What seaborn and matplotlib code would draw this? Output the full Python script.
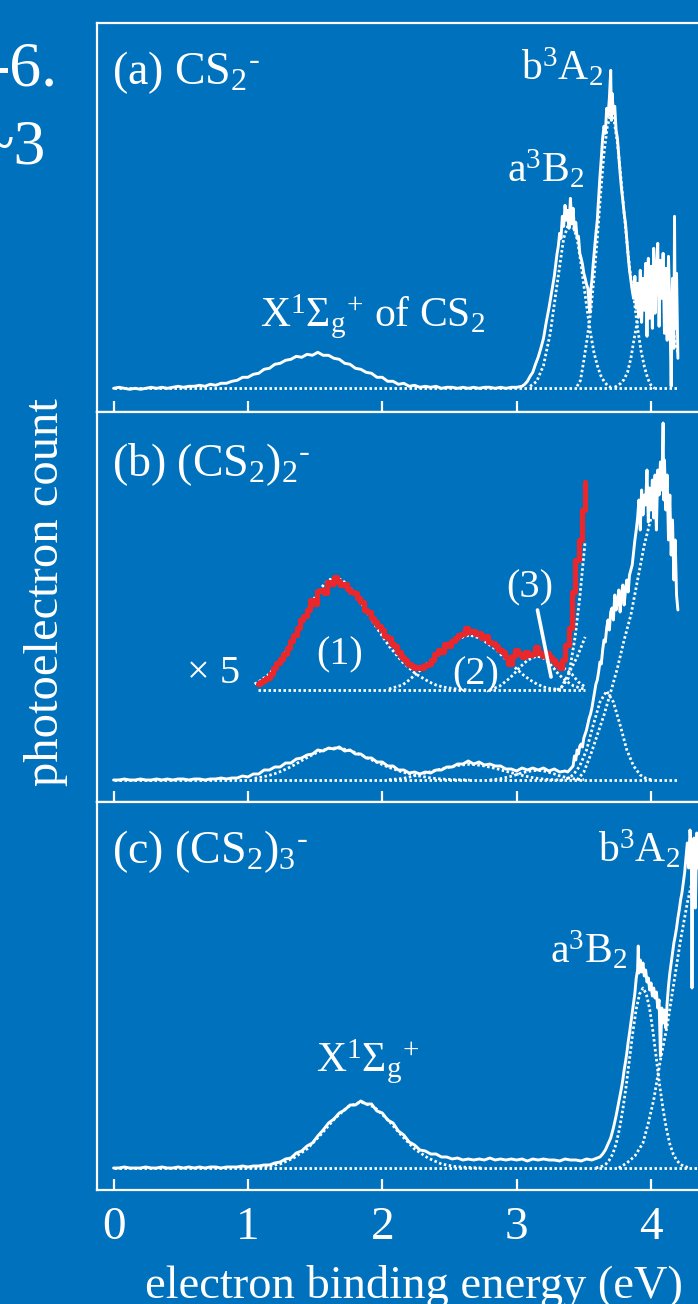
import numpy as np
import matplotlib
matplotlib.use("Agg")
import matplotlib.pyplot as plt
import seaborn as sns

# ---------------- data ----------------
# x: electron binding energy (eV); y: photoelectron count (arb., baseline = 0)
SPEC_A = [(0.00,0),(0.04,1),(0.08,0),(0.12,-1),(0.16,0),(0.20,-1),(0.24,0),(0.28,1),(0.32,0),(0.36,1),(0.40,0),(0.44,1),(0.48,2),(0.52,1),(0.56,2),(0.60,2),
 (0.64,3),(0.68,2),(0.72,4),(0.76,3),(0.80,5),(0.84,5),(0.88,7),(0.92,8),(0.96,11),(1.00,11),(1.04,14),(1.08,15),(1.12,19),(1.16,20),(1.20,24),(1.24,25),
 (1.28,28),(1.32,29),(1.36,32),(1.40,31),(1.44,34),(1.48,33),(1.52,36),(1.56,33),(1.60,33),(1.64,30),(1.68,29),(1.72,25),(1.76,24),(1.80,20),(1.84,19),
 (1.88,16),(1.92,15),(1.96,11),(2.00,11),(2.04,7),(2.08,7),(2.12,4),(2.16,5),(2.20,2),(2.24,3),(2.28,1),(2.32,2),(2.36,1),(2.40,2),(2.44,0),(2.48,1),
 (2.52,1),(2.56,0),(2.60,1),(2.64,0),(2.68,1),(2.72,0),(2.76,1),(2.80,1),(2.84,0),(2.88,1),(2.92,0),(2.96,1),(3.00,1),
 (3.04,2),(3.06,4),(3.08,7),(3.10,12),(3.12,16),(3.14,24),(3.16,31),(3.18,40),(3.20,50),(3.22,66),(3.24,80),(3.26,96),(3.28,112),(3.30,134),(3.31,142),
 (3.32,155),(3.33,150),(3.34,172),(3.35,162),(3.36,183),(3.37,168),(3.38,178),(3.39,160),(3.40,190),(3.41,165),(3.42,180),(3.43,158),(3.44,166),(3.45,150),
 (3.46,152),(3.47,135),(3.48,130),(3.49,124),(3.50,115),(3.51,110),(3.52,104),(3.53,100),(3.54,82),(3.545,76),(3.55,96),(3.56,108),(3.57,125),(3.58,140),
 (3.59,155),(3.60,168),(3.61,190),(3.62,212),(3.63,230),(3.64,250),(3.65,262),(3.66,255),(3.67,280),(3.68,272),(3.69,290),(3.70,318),(3.705,268),(3.71,295),
 (3.72,275),(3.73,282),(3.74,258),(3.75,250),(3.76,232),(3.77,215),(3.78,200),(3.79,188),(3.80,175),(3.81,165),(3.82,148),(3.83,132),(3.84,118),(3.85,108),
 (3.86,98),(3.87,90),(3.88,112),(3.89,80),(3.90,105),(3.91,72),(3.92,118),(3.93,66),(3.94,110),(3.95,78),(3.96,125),(3.97,52),(3.98,130),(3.99,70),
 (4.00,122),(4.01,60),(4.02,140),(4.03,75),(4.04,118),(4.05,145),(4.06,62),(4.07,128),(4.08,90),(4.09,135),(4.10,55),(4.11,120),(4.12,48),(4.13,132),
 (4.14,80),(4.15,2),(4.16,110),(4.17,40),(4.175,172),(4.18,60),(4.19,115),(4.20,30)]
FIT_A_a3B2 = [(3.10,2),(3.15,7),(3.20,23),(3.25,55),(3.30,103),(3.35,150),(3.40,170),(3.45,150),(3.475,128),(3.50,103),(3.525,78),(3.55,55),
 (3.575,36),(3.60,23),(3.625,13),(3.65,7),(3.675,3),(3.70,1)]
FIT_A_b3A2 = [(3.45,2),(3.475,8),(3.50,28),(3.525,50),(3.55,75),(3.575,110),(3.60,150),(3.625,195),(3.65,235),(3.675,262),(3.70,275),(3.725,268),
 (3.75,245),(3.775,212),(3.80,175),(3.825,140),(3.85,110),(3.875,88),(3.90,60),(3.925,38),(3.95,22),(3.975,10),(4.00,3),(4.025,0)]
FIT_A_high = [(3.73,1),(3.775,5),(3.80,9),(3.825,16),(3.85,30),(3.875,50),(3.90,68),(3.925,82),(3.95,98),(3.975,110),(4.00,118),(4.025,120),
 (4.05,118),(4.075,110),(4.10,98),(4.125,82),(4.15,68),(4.175,50),(4.20,35)]
BASE_A = [(0.0,0),(4.2,0)]

SPEC_B = [(0.00,0),(0.04,0),(0.08,1),(0.12,0),(0.16,0),(0.20,1),(0.24,0),(0.28,0),(0.32,1),(0.36,0),(0.40,1),(0.44,0),(0.48,1),(0.52,1),(0.56,0),
 (0.60,1),(0.64,1),(0.68,0),(0.72,1),(0.76,1),(0.80,2),(0.84,1),(0.88,2),(0.92,2),(0.96,4),(1.00,3),(1.04,6),(1.08,6),(1.12,10),(1.16,10),(1.20,13),
 (1.24,13),(1.28,17),(1.32,17),(1.36,21),(1.40,22),(1.44,25),(1.48,26),(1.52,30),(1.56,29),(1.60,32),(1.64,31),(1.68,33),(1.72,29),(1.76,30),(1.80,26),
 (1.84,26),(1.88,22),(1.92,22),(1.96,18),(2.00,18),(2.04,14),(2.08,14),(2.12,10),(2.16,10),(2.20,7),(2.24,8),(2.28,6),(2.32,8),(2.36,7),(2.40,10),
 (2.44,10),(2.48,13),(2.52,13),(2.56,16),(2.60,16),(2.64,19),(2.68,16),(2.72,18),(2.76,15),(2.80,16),(2.84,14),(2.88,14),(2.92,11),(2.96,11),(3.00,9),
 (3.04,12),(3.08,10),(3.12,12),(3.16,10),(3.20,12),(3.24,9),(3.28,11),(3.32,8),(3.36,9),(3.38,8),(3.40,11),(3.42,14),
 (3.43,24),(3.44,20),(3.45,30),(3.46,26),(3.47,34),(3.48,36),(3.49,33),(3.50,42),(3.51,46),(3.52,50),(3.53,56),(3.54,62),(3.55,66),(3.56,72),(3.57,80),
 (3.58,88),(3.59,96),(3.60,100),(3.61,108),(3.62,118),(3.63,116),(3.64,130),(3.65,140),(3.66,138),(3.67,152),(3.68,160),(3.69,150),(3.70,168),(3.71,172),
 (3.72,160),(3.73,185),(3.74,170),(3.75,178),(3.76,190),(3.77,168),(3.78,185),(3.79,195),(3.80,175),(3.81,190),(3.82,200),(3.83,188),(3.84,205),(3.85,210),
 (3.86,215),(3.87,228),(3.88,240),(3.89,250),(3.90,262),(3.91,280),(3.92,250),(3.93,290),(3.94,265),(3.95,285),(3.96,275),(3.97,310),(3.98,258),(3.99,292),
 (4.00,270),(4.01,300),(4.02,262),(4.03,305),(4.04,250),(4.05,310),(4.06,285),(4.07,318),(4.08,290),(4.09,357),(4.095,280),(4.10,320),(4.11,270),
 (4.12,305),(4.13,240),(4.14,285),(4.15,225),(4.16,260),(4.17,200),(4.18,240),(4.19,185),(4.20,170)]
FIT_B_mid = [(3.37,1),(3.42,5),(3.47,14),(3.52,30),(3.57,55),(3.62,78),(3.67,89),(3.72,78),(3.77,55),(3.82,30),(3.87,14),(3.92,5),(3.97,1),(4.02,0)]
FIT_B_big = [(3.45,0),(3.50,8),(3.55,25),(3.60,45),(3.65,65),(3.70,88),(3.75,112),(3.80,140),(3.85,165),(3.90,200),(3.95,235),(4.00,262)]
BASE_B = [(0.0,0),(4.2,0)]

# x5 magnified part of (b)
RED_B = [(1.075,6),(1.10,8),(1.125,10),(1.15,12),(1.175,16),(1.20,22),(1.225,27),(1.25,31),(1.275,36),(1.30,42),(1.325,49),(1.35,55),(1.375,62),
 (1.40,70),(1.425,74),(1.45,80),(1.475,90),(1.50,86),(1.525,99),(1.55,100),(1.575,97),(1.60,108),(1.625,106),(1.65,113),(1.675,109),(1.70,105),
 (1.725,106),(1.75,101),(1.775,98),(1.80,97),(1.825,92),(1.85,88),(1.875,80),(1.90,78),(1.925,72),(1.95,68),(1.975,64),(2.00,60),(2.025,54),(2.05,52),
 (2.075,46),(2.10,44),(2.125,38),(2.15,33),(2.175,30),(2.20,26),(2.225,24),(2.25,22),(2.275,23),(2.30,22),(2.325,25),(2.35,26),(2.375,30),(2.40,36),
 (2.425,40),(2.45,38),(2.475,46),(2.50,44),(2.525,49),(2.55,52),(2.575,55),(2.60,56),(2.625,62),(2.65,58),(2.675,59),(2.70,56),(2.725,57),(2.75,52),
 (2.775,54),(2.80,48),(2.825,47),(2.85,44),(2.875,40),(2.90,38),(2.925,33),(2.95,26),(2.975,34),(3.00,40),(3.025,36),(3.05,33),(3.075,38),(3.10,35),
 (3.125,36),(3.15,43),(3.175,37),(3.20,34),(3.225,37),(3.25,33),(3.275,30),(3.30,26),(3.325,22),(3.35,30),(3.375,45),(3.40,62),(3.425,98),(3.45,130),
 (3.475,150),(3.50,180),(3.51,208)]
COMP1 = [(1.05,6),(1.10,10),(1.15,15),(1.20,22),(1.25,31),(1.30,42),(1.35,54),(1.40,68),(1.45,81),(1.50,93),(1.55,103),(1.60,110),(1.65,112),
 (1.70,110),(1.75,104),(1.80,96),(1.85,86),(1.90,75),(1.95,64),(2.00,54),(2.05,44),(2.10,36),(2.15,28),(2.20,22),(2.25,16),(2.30,12),(2.35,8),
 (2.40,5),(2.45,3),(2.50,2),(2.55,1),(2.65,0)]
COMP2 = [(2.05,1),(2.10,3),(2.15,5),(2.20,10),(2.25,16),(2.30,22),(2.35,28),(2.40,34),(2.45,40),(2.50,45),(2.55,50),(2.60,53),(2.65,55),(2.70,53),
 (2.75,50),(2.80,45),(2.85,40),(2.90,33),(2.95,27),(3.00,21),(3.05,15),(3.10,10),(3.15,6),(3.20,3),(3.25,1.5),(3.35,0)]
COMP3 = [(2.80,0),(2.875,4),(2.95,12),(3.00,19),(3.025,23),(3.075,29),(3.10,31),(3.15,34),(3.20,32),(3.24,27),(3.275,22),(3.31,16),(3.35,11),
 (3.39,7),(3.425,4),(3.50,1)]
RED_STEEP = [(3.30,0),(3.335,3),(3.385,12),(3.435,53),(3.47,93),(3.51,149)]
RED_MED = [(3.33,2),(3.385,16),(3.45,33),(3.51,53)]
RED_FALL = [(3.35,22),(3.41,16),(3.46,8),(3.51,3)]
RED_BASE = [(1.075,0),(3.51,0)]
MAGNIFY = 3.5          # x5 trace vs. main trace (visual ratio)

SPEC_C = [(0.00,0),(0.04,0),(0.08,1),(0.12,0),(0.16,0),(0.20,0),(0.24,1),(0.28,0),(0.32,0),(0.36,1),(0.40,0),(0.44,0),(0.48,1),(0.52,0),(0.56,1),
 (0.60,0),(0.64,1),(0.68,0),(0.72,1),(0.76,1),(0.80,0),(0.84,1),(0.88,1),(0.92,1),(0.96,2),(1.00,1),(1.04,2),(1.08,2),(1.12,3),(1.16,3),(1.20,5),
 (1.24,6),(1.28,9),(1.32,10),(1.36,15),(1.40,17),(1.44,22),(1.48,25),(1.52,32),(1.56,38),(1.60,45),(1.64,49),(1.68,55),(1.72,58),(1.76,63),(1.80,63),
 (1.84,67),(1.88,64),(1.92,64),(1.96,57),(2.00,55),(2.04,48),(2.08,45),(2.12,37),(2.16,33),(2.20,26),(2.24,23),(2.28,18),(2.32,17),(2.36,14),(2.40,14),
 (2.44,11),(2.48,11),(2.52,9),(2.56,10),(2.60,8),(2.64,9),(2.68,8),(2.72,9),(2.76,8),(2.80,10),(2.84,8),(2.88,9),(2.92,8),(2.96,9),(3.00,8),(3.04,9),
 (3.08,7),(3.12,9),(3.16,8),(3.20,9),(3.24,8),(3.28,8),(3.32,7),(3.36,9),(3.40,8),(3.44,8),(3.48,7),(3.52,9),(3.56,8),(3.58,9),(3.60,10),(3.62,11),
 (3.64,14),(3.66,18),(3.68,24),(3.70,30),(3.72,40),(3.74,52),(3.76,66),(3.78,80),(3.79,88),(3.80,98),(3.81,106),(3.82,115),(3.83,126),(3.84,135),
 (3.85,145),(3.86,155),(3.87,165),(3.88,175),(3.89,190),(3.90,198),(3.905,222),(3.91,195),(3.92,208),(3.93,196),(3.94,205),(3.95,192),(3.96,198),
 (3.97,186),(3.98,190),(3.99,178),(4.00,185),(4.01,172),(4.02,180),(4.03,170),(4.04,176),(4.05,160),(4.06,168),(4.07,112),(4.08,160),(4.09,145),
 (4.10,158),(4.11,140),(4.12,165),(4.13,182),(4.14,195),(4.15,205),(4.16,215),(4.17,225),(4.18,232),(4.19,240),(4.20,250),(4.21,258),(4.22,268),
 (4.23,275),(4.24,285),(4.25,295),(4.26,310),(4.27,325),(4.28,300),(4.29,338),(4.30,320),(4.305,180),(4.31,300),(4.32,330),(4.33,260),(4.34,335),
 (4.35,300),(4.36,340),(4.37,310),(4.38,335),(4.39,300),(4.40,330)]
FIT_C_X = [(0.94,0),(1.04,0.5),(1.14,1.5),(1.24,4),(1.34,10),(1.44,19),(1.54,33),(1.64,48.5),(1.74,61),(1.84,66),(1.94,61),(2.04,48.5),(2.14,33),
 (2.24,19),(2.34,10),(2.44,4),(2.54,1.5),(2.64,0.5),(2.74,0)]
FIT_C_a3B2 = [(3.59,0),(3.64,2),(3.665,4),(3.69,8),(3.715,14),(3.74,24),(3.765,39),(3.79,58.5),(3.815,82),(3.84,109),(3.865,136),(3.89,159),
 (3.915,174),(3.94,180),(3.965,174),(3.99,159),(4.015,136),(4.04,109),(4.065,82),(4.09,58.5),(4.115,39),(4.14,24),(4.165,14),(4.19,8),(4.215,4),
 (4.24,2),(4.29,0)]
FIT_C_b3A2 = [(3.76,0),(3.82,5),(3.88,12),(3.94,25),(3.98,45),(4.02,68),(4.07,108),(4.12,142),(4.17,185),(4.22,228),(4.27,265),(4.32,295),
 (4.37,312),(4.42,318),(4.47,312)]
BASE_C = [(0.0,0),(4.5,0)]

TICKS = [0, 1, 2, 3, 4]
TICK_LABELS = ["0", "1", "2", "3", "4"]

# ---------------- style ----------------
BG = "#0071BC"
RED = "#E8282C"
WH = "white"
FW, FH = 698, 1304

sns.set_theme(style="white")
plt.rcParams.update({
    "font.family": ["Liberation Serif", "DejaVu Serif"],
    "mathtext.fontset": "custom",
    "mathtext.rm": "Liberation Serif",
    "mathtext.it": "Liberation Serif:italic",
    "mathtext.bf": "Liberation Serif:bold",
    "mathtext.default": "rm",
    "text.color": WH,
    "axes.edgecolor": WH,
    "xtick.color": WH,
    "axes.facecolor": BG,
    "figure.facecolor": BG,
})

fig = plt.figure(figsize=(FW / 100, FH / 100), dpi=100)

X0, X1 = 96.5, 718.2              # pixel extent of the axes
XLIM = (-0.127, 4.5)


def fpos(x, y):
    return (x / FW, 1 - y / FH)


def make_axes(top, bottom, ylim):
    ax = fig.add_axes([X0 / FW, 1 - bottom / FH, (X1 - X0) / FW, (bottom - top) / FH])
    ax.set_facecolor(BG)
    ax.set_xlim(*XLIM)
    ax.set_ylim(*ylim)
    ax.set_yticks([])
    ax.set_xticks(TICKS)
    ax.set_xticklabels(TICK_LABELS)
    ax.tick_params(axis="x", direction="in", length=8, width=1.6, colors=WH,
                   labelsize=34, pad=12, bottom=True, top=False)
    for s in ["left", "top", "bottom"]:
        ax.spines[s].set_color(WH)
        ax.spines[s].set_linewidth(1.6)
    ax.spines["right"].set_visible(False)
    ax.grid(False)
    return ax


DOT = dict(color=WH, lw=2.0, linestyle=(0, (0.9, 0.9)), dash_capstyle="butt", zorder=2)
SOLID = dict(color=WH, lw=2.1, zorder=3)


def draw(ax, pts, scale=1.0, offset=0.0, **kw):
    a = np.array(pts, dtype=float)
    sns.lineplot(x=a[:, 0], y=a[:, 1] * scale + offset, ax=ax,
                 estimator=None, sort=False, **kw)


axA = make_axes(23, 412.5, (-24.2, 365.3))
axB = make_axes(412.5, 802, (-22.0, 367.5))
axC = make_axes(802, 1190, (-22.0, 366.0))
for ax in (axA, axB):
    ax.tick_params(axis="x", labelbottom=False)

# panel (a)
draw(axA, BASE_A, **DOT)
for f in (FIT_A_a3B2, FIT_A_b3A2, FIT_A_high):
    draw(axA, f, **DOT)
draw(axA, SPEC_A, **SOLID)

# panel (b)
draw(axB, BASE_B, **DOT)
for f in (FIT_B_mid, FIT_B_big):
    draw(axB, f, **DOT)
for f in (COMP1, COMP2, COMP3):
    draw(axB, f, scale=1 / MAGNIFY, **DOT)
draw(axB, SPEC_B, **SOLID)
RED_OFF = 90
draw(axB, RED_BASE, offset=RED_OFF, **DOT)
for f in (COMP1, COMP2, COMP3, RED_STEEP, RED_MED, RED_FALL):
    draw(axB, f, offset=RED_OFF, **DOT)
draw(axB, RED_B, offset=RED_OFF, color=RED, lw=3.8, drawstyle="steps-mid", zorder=4)
axB.annotate("", xy=(3.256, RED_OFF + 13), xytext=(3.155, RED_OFF + 80),
             arrowprops=dict(arrowstyle="-", color=WH, lw=2.6, shrinkA=0, shrinkB=0), zorder=5)

# panel (c)
draw(axC, BASE_C, **DOT)
for f in (FIT_C_X, FIT_C_a3B2, FIT_C_b3A2):
    draw(axC, f, **DOT)
draw(axC, SPEC_C, **SOLID)

# ---------------- texts ----------------
FS_PANEL = 33
FS_STATE = 30
FS_SMALL = 29


def ftext(x, y, s, **kw):
    kw.setdefault("ha", "left")
    kw.setdefault("va", "baseline")
    kw.setdefault("fontsize", FS_STATE)
    fig.text(*fpos(x, y), s, color=WH, **kw)


NEG = r"{}^{\text{-}}"
ftext(112, 84, r"(a) CS$_{2}" + NEG + "$", fontsize=FS_PANEL)
ftext(521, 80, r"b$^{3}$A$_{2}$")
ftext(507, 182, r"a$^{3}$B$_{2}$")
ftext(260, 327, r"X$^{1}\Sigma_{g}{}^{+}$ of CS$_{2}$")

ftext(112, 476, r"(b) (CS$_{2}$)$_{2}" + NEG + "$", fontsize=FS_PANEL)
ftext(187, 683, "× 5", fontsize=FS_SMALL)
ftext(340, 655, "(1)", ha="center", va="center", fontsize=FS_SMALL)
ftext(476, 675, "(2)", ha="center", va="center", fontsize=FS_SMALL)
ftext(530, 588, "(3)", ha="center", va="center", fontsize=FS_SMALL)

ftext(112, 863, r"(c) (CS$_{2}$)$_{3}" + NEG + "$", fontsize=FS_PANEL)
ftext(598, 862, r"b$^{3}$A$_{2}$")
ftext(550, 963, r"a$^{3}$B$_{2}$")
ftext(316, 1072, r"X$^{1}\Sigma_{g}{}^{+}$")

ftext(58, 86, "-6.", ha="right", fontsize=46)
ftext(46, 163, "~3", ha="right", fontsize=46)

ftext(46, 592, "photoelectron count", ha="center", va="center", rotation=90, fontsize=35)
ftext(414, 1298, "electron binding energy (eV)", ha="center", fontsize=33.5)

fig.savefig("out.png", dpi=100, facecolor=BG)
